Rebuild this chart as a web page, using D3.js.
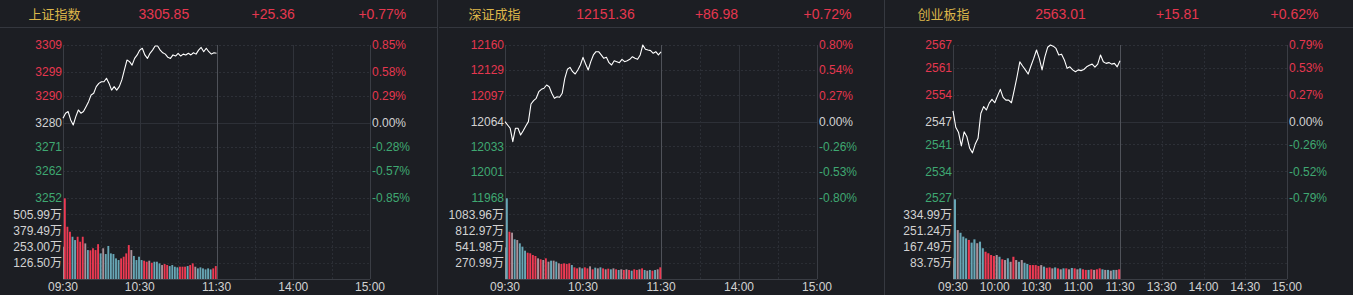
<!DOCTYPE html>
<html><head><meta charset="utf-8">
<script src="https://cdn.jsdelivr.net/npm/d3@7/dist/d3.min.js"></script>
<style>
html,body{margin:0;padding:0;background:#1c1e23;overflow:hidden;}
svg{display:block;}
</style></head>
<body>
<svg id="c" width="1353" height="295"></svg>
<script>
// ---------------- DATA ----------------
const names = ["上证指数", "深证成指", "创业板指"];
const closes = ["3305.85", "12151.36", "2563.01"];
const changes = ["+25.36", "+86.98", "+15.81"];
const pcts = ["+0.77%", "+0.72%", "+0.62%"];

const sh_priceTicks = ["3309","3299","3290","3280","3271","3262","3252"];
const sh_pctTicks = ["0.85%","0.58%","0.29%","0.00%","-0.28%","-0.57%","-0.85%"];
const sh_volTicks = ["505.99万","379.49万","253.00万","126.50万"];

const sz_priceTicks = ["12160","12129","12097","12064","12033","12001","11968"];
const sz_pctTicks = ["0.80%","0.54%","0.27%","0.00%","-0.26%","-0.53%","-0.80%"];
const sz_volTicks = ["1083.96万","812.97万","541.98万","270.99万"];

const cy_priceTicks = ["2567","2561","2554","2547","2541","2534","2527"];
const cy_pctTicks = ["0.79%","0.53%","0.27%","0.00%","-0.26%","-0.52%","-0.79%"];
const cy_volTicks = ["334.99万","251.24万","167.49万","83.75万"];

const timeLabelsShort = ["09:30","10:30","11:30","14:00","15:00"];
const timeLabelsShortMin = [0, 60, 120, 180, 240];
const timeLabelsFull = ["09:30","10:00","10:30","11:00","11:30","13:30","14:00","14:30","15:00"];
const timeLabelsFullMin = [0, 30, 60, 90, 120, 150, 180, 210, 240];

// price every 2 trading minutes from 09:30 to 11:30
const sh_price = [3281.7,3283.6,3284.2,3281.1,3279.2,3282.3,3284.8,3283.6,3284.2,3286.0,3287.9,3290.4,3291.0,3293.5,3294.7,3295.3,3295.3,3296.6,3294.7,3292.2,3293.5,3292.2,3293.5,3296.0,3299.7,3303.4,3302.8,3301.5,3304.0,3305.3,3307.1,3307.8,3305.3,3304.0,3305.9,3307.1,3308.6,3308.6,3307.1,3306.1,3305.6,3304.4,3304.0,3305.3,3304.9,3305.9,3304.9,3305.6,3305.3,3305.9,3305.3,3306.1,3305.6,3307.1,3308.1,3306.5,3307.8,3306.5,3305.6,3306.1,3305.9];
const sz_price = [12063.8,12059.6,12055.5,12038.7,12055.5,12055.5,12047.1,12052.5,12058.4,12063.8,12086.0,12090.1,12093.1,12101.4,12104.4,12105.7,12109.8,12107.7,12099.4,12093.1,12095.1,12094.4,12099.4,12118.2,12129.5,12132.0,12126.5,12123.6,12128.6,12134.9,12144.5,12136.2,12128.6,12139.1,12147.5,12151.6,12151.6,12147.5,12143.3,12144.5,12137.8,12134.9,12140.3,12139.1,12137.8,12142.0,12139.1,12140.3,12142.0,12145.3,12143.3,12142.0,12147.5,12160.0,12154.6,12153.7,12152.9,12149.6,12151.6,12147.5,12151.4];
const cy_price = [2549.8,2545.5,2544.1,2540.6,2544.3,2543.0,2540.0,2538.8,2541.1,2542.6,2549.1,2550.9,2550.0,2551.8,2552.8,2551.9,2553.7,2555.4,2553.3,2552.6,2552.6,2551.9,2555.2,2558.7,2562.6,2561.5,2560.5,2559.4,2561.5,2563.5,2565.7,2563.5,2560.5,2563.9,2566.4,2567.0,2566.7,2566.1,2564.4,2564.6,2563.1,2560.9,2561.3,2560.5,2560.0,2560.5,2560.3,2560.6,2561.3,2561.7,2562.0,2561.2,2562.0,2564.4,2562.6,2562.2,2562.4,2562.0,2562.2,2561.3,2562.9];

// volume (万) per 2-minute bar, plus opening auction volume
const sh_auction = 252;
const sh_vol = [630,408,369,330,304,330,291,330,278,226,224,240,226,272,200,240,195,258,200,195,161,148,161,174,200,265,226,180,148,174,148,143,135,143,127,135,135,122,109,117,109,101,109,96,91,96,96,96,101,109,122,96,83,91,83,75,83,75,83,101];
const sh_dir = [1,1,1,-1,-1,1,1,1,0,-1,1,1,1,1,-1,0,-1,-1,-1,-1,-1,-1,1,1,1,1,0,-1,-1,-1,-1,1,1,0,1,-1,-1,-1,0,1,1,-1,-1,-1,-1,1,1,1,-1,1,1,0,-1,-1,-1,-1,-1,-1,1,1];

const sz_auction = 530;
const sz_vol = [1350,791,775,664,652,597,541,474,440,430,401,385,346,330,318,346,290,307,307,290,262,251,262,251,262,234,195,178,195,178,195,178,212,162,190,178,195,178,162,173,162,178,162,151,162,151,162,151,139,162,151,162,178,151,139,151,139,151,162,195];
const sz_dir = [-1,1,0,-1,0,-1,-1,-1,1,1,1,1,0,1,0,1,0,-1,0,-1,0,1,1,1,1,-1,1,1,0,-1,1,1,0,1,-1,0,-1,1,0,1,-1,0,1,-1,0,1,0,1,-1,1,1,0,1,-1,0,-1,1,-1,0,1];

const cy_auction = 107;
const cy_vol = [412,253,239,219,210,202,188,205,185,193,159,141,133,124,119,124,115,102,98,107,89,115,98,89,98,84,78,72,72,72,67,72,64,58,60,55,60,55,50,55,55,50,57,55,50,55,50,47,47,50,47,50,55,50,47,47,43,47,47,50];
const cy_dir = [-1,0,-1,-1,-1,1,-1,-1,0,-1,-1,1,1,1,1,0,-1,1,0,-1,0,1,0,-1,0,-1,-1,1,1,1,1,0,-1,1,1,0,-1,1,0,-1,1,0,-1,1,0,-1,1,1,-1,1,0,1,1,-1,0,-1,0,-1,0,1];

// ---------------- LAYOUT / STYLE ----------------
const panels = [
  {x0:0, x1:437, left:63, right:370, ticks:[sh_priceTicks, sh_pctTicks, sh_volTicks], price:sh_price, vol:sh_vol, dir:sh_dir, auction:sh_auction, tl:timeLabelsShort, tlm:timeLabelsShortMin},
  {x0:439, x1:883, left:505, right:817, ticks:[sz_priceTicks, sz_pctTicks, sz_volTicks], price:sz_price, vol:sz_vol, dir:sz_dir, auction:sz_auction, tl:timeLabelsShort, tlm:timeLabelsShortMin},
  {x0:885, x1:1353, left:953, right:1287, ticks:[cy_priceTicks, cy_pctTicks, cy_volTicks], price:cy_price, vol:cy_vol, dir:cy_dir, auction:cy_auction, tl:timeLabelsFull, tlm:timeLabelsFullMin}
];
const TOP = 45, MID = 198, BOT = 279, HEAD = 27.5;
const RED = "#e5374f", GREEN = "#3fa872", GRAYTXT = "#d2d2d2";
const BAR_UP = "#ee3a53", BAR_DN = "#68a7b6", BAR_FLAT = "#ab9099";
const FONT = "'Liberation Sans', Arial, 'Noto Sans CJK SC', sans-serif";
const CJK = "'Noto Sans CJK SC', sans-serif";

const svg = d3.select("#c");
svg.append("rect").attr("width",1353).attr("height",295).attr("fill","#1c1e23");

// panel separators
[437.5, 884.5].forEach(x => svg.append("line").attr("x1",x).attr("x2",x).attr("y1",0).attr("y2",295)
  .attr("stroke","#363940").attr("stroke-width",1));

panels.forEach((p, pi) => {
  const g = svg.append("g");
  // header
  g.append("line").attr("x1",p.x0).attr("x2",p.x1).attr("y1",HEAD).attr("y2",HEAD).attr("stroke","#34373e");
  const hw = (p.x1 - p.x0) / 4;
  const hdr = [names[pi], closes[pi], changes[pi], pcts[pi]];
  hdr.forEach((t, k) => {
    g.append("text").attr("x", p.x0 + hw*(k+0.5)).attr("y", 19)
      .attr("text-anchor","middle")
      .attr("font-family", k===0 ? CJK : FONT)
      .attr("font-size", k===0 ? 13 : 14)
      .attr("fill", k===0 ? "#dcb64a" : "#e5374f")
      .text(t);
  });

  const x = d3.scaleLinear().domain([0, 240]).range([p.left, p.right]);
  const pt = p.ticks[0].map(Number);
  const y = d3.scaleLinear().domain([pt[pt.length-1], pt[0]]).range([MID, TOP]);
  const volMax = parseFloat(p.ticks[2][0]) * 5 / 4;
  const yv = d3.scaleLinear().domain([0, volMax]).range([BOT, MID]);

  // horizontal grid
  pt.forEach((v, i) => {
    g.append("line").attr("x1",p.left).attr("x2",p.right)
      .attr("y1", Math.round(y(v))+0.5).attr("y2", Math.round(y(v))+0.5)
      .attr("stroke", "#2d3037").attr("stroke-dasharray", i===3 ? null : "2,2");
  });
  p.ticks[2].forEach(t => {
    const yy = Math.round(yv(parseFloat(t))) + 0.5;
    g.append("line").attr("x1",p.left).attr("x2",p.right).attr("y1",yy).attr("y2",yy)
      .attr("stroke","#2a2d33").attr("stroke-dasharray","2,2");
  });
  // vertical grid
  d3.range(0, 241, 30).forEach(m => {
    const xx = Math.round(x(m)) + 0.5;
    let stroke = "#2b2e35", dash = "2,2";
    if (m === 0 || m === 240) { stroke = "#3a3d44"; dash = null; }
    else if (m === 120) { stroke = "#4f5259"; dash = null; }
    else if (p.tlm.includes(m) && p.tl.length < 9) { stroke = "#30333a"; dash = null; }
    g.append("line").attr("x1",xx).attr("x2",xx).attr("y1",TOP).attr("y2",BOT)
      .attr("stroke",stroke).attr("stroke-dasharray",dash);
  });
  g.append("line").attr("x1",p.left).attr("x2",p.right).attr("y1",BOT+0.5).attr("y2",BOT+0.5).attr("stroke","#3a3d44");

  // volume bars
  const step = x(2) - x(0);
  g.append("rect").attr("x", x(0)+0.5).attr("width", 1.5)
    .attr("y", yv(p.auction)).attr("height", BOT - yv(p.auction)).attr("fill", "#e6e6e6");
  g.selectAll("rect.v").data(p.vol).enter().append("rect").attr("class","v")
    .attr("x", (d,i) => x((i+1)*2) - step + 0.9)
    .attr("width", Math.max(1.4, step - 0.7))
    .attr("y", d => yv(d)).attr("height", d => BOT - yv(d))
    .attr("fill", (d,i) => p.dir[i] > 0 ? BAR_UP : (p.dir[i] < 0 ? BAR_DN : BAR_FLAT));

  // price line
  const line = d3.line().x((d,i) => x(i*2)).y(d => y(d));
  g.append("path").datum(p.price).attr("d", line).attr("fill","none")
    .attr("stroke","#ffffff").attr("stroke-width",1.1).attr("stroke-linejoin","round");

  // left price labels & right percent labels
  p.ticks[0].forEach((t, i) => {
    const col = i < 3 ? RED : (i === 3 ? GRAYTXT : GREEN);
    g.append("text").attr("x", p.left - 1).attr("y", y(pt[i])).attr("dy","0.36em")
      .attr("text-anchor","end").attr("font-family",FONT).attr("font-size",12).attr("fill",col).text(t);
    g.append("text").attr("x", p.right + 2).attr("y", y(pt[i])).attr("dy","0.36em")
      .attr("text-anchor","start").attr("font-family",FONT).attr("font-size",12).attr("fill",col).text(p.ticks[1][i]);
  });
  // volume labels
  p.ticks[2].forEach(t => {
    g.append("text").attr("x", p.left - 1).attr("y", yv(parseFloat(t))).attr("dy","0.36em")
      .attr("text-anchor","end").attr("font-family",FONT).attr("font-size",12).attr("fill",GRAYTXT).text(t);
  });
  // time labels
  p.tl.forEach((t, i) => {
    g.append("text").attr("x", x(p.tlm[i])).attr("y", 291)
      .attr("text-anchor","middle").attr("font-family",FONT).attr("font-size",12).attr("fill",GRAYTXT).text(t);
  });
});
</script>
</body></html>
